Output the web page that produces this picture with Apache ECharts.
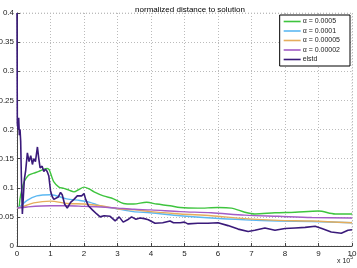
<!DOCTYPE html>
<html><head><meta charset="utf-8">
<script src="https://cdn.jsdelivr.net/npm/echarts@6/dist/echarts.min.js"></script>
<style>html,body{margin:0;padding:0;background:#fff}#c{width:357px;height:268px}</style>
</head><body><div id="c"></div>
<script>
var xTicks = [0,1,2,3,4,5,6,7,8,9,10];
var yTicks = [0,0.05,0.1,0.15,0.2,0.25,0.3,0.35,0.4];
var names = ['\u03b1 = 0.0005','\u03b1 = 0.0001','\u03b1 = 0.00005','\u03b1 = 0.00002','elstd'];

var g5X = [0,0.06,0.09,0.15,0.21,0.28,0.36,0.5,0.65,0.81,0.9,0.96,1.03,1.1,1.25,1.4,1.55,1.7,1.85,2.0,2.15,2.3,2.58,2.88,3.18,3.48,3.87,4.17,4.57,4.87,5.4,6.0,6.4,6.8,7.1,7.7,8.3,9.0,9.5,10];
var g5Y = [0.065,0.067,0.081,0.098,0.11,0.117,0.122,0.125,0.128,0.132,0.133,0.131,0.12,0.11,0.101,0.099,0.096,0.093,0.097,0.101,0.098,0.093,0.086,0.081,0.073,0.072,0.075,0.072,0.069,0.066,0.065,0.066,0.065,0.058,0.055,0.057,0.058,0.06,0.055,0.055];

var g1X = [0,0.1,0.29,0.59,1.0,1.48,1.88,2.18,2.48,2.97,3.47,3.97,4.87,5.8,6.8,7.8,8.8,10];
var g1Y = [0.065,0.068,0.078,0.086,0.088,0.081,0.078,0.075,0.069,0.064,0.059,0.057,0.052,0.048,0.045,0.043,0.042,0.040];

var g05X = [0,0.2,0.5,1.0,1.5,2.0,2.5,3.0,3.5,4.0,4.87,5.8,6.8,7.8,8.8,10];
var g05Y = [0.065,0.068,0.074,0.077,0.073,0.072,0.069,0.064,0.062,0.059,0.055,0.052,0.047,0.044,0.043,0.040];

var g02X = [0,0.3,1.0,1.5,2.0,2.5,3.0,3.5,4.0,4.87,5.8,6.8,7.8,8.8,10];
var g02Y = [0.065,0.067,0.069,0.069,0.068,0.067,0.065,0.063,0.062,0.059,0.057,0.053,0.051,0.049,0.048];

var elX = [0,0.01,0.03,0.05,0.07,0.09,0.11,0.13,0.16,0.19,0.22,0.26,0.31,0.36,0.41,0.46,0.5,0.55,0.61,0.65,0.69,0.75,0.8,0.85,0.9,0.95,1.0,1.05,1.1,1.15,1.23,1.3,1.35,1.42,1.5,1.6,1.7,1.8,1.93,2.0,2.05,2.13,2.25,2.38,2.48,2.6,2.78,2.93,3.05,3.17,3.3,3.42,3.55,3.67,3.8,3.92,4.12,4.35,4.57,4.67,4.87,5.0,5.1,5.4,5.7,6.0,6.3,6.6,6.9,7.1,7.4,7.7,8.0,8.3,8.6,8.9,9.1,9.38,9.68,9.88,10];
var elY = [0.4,0.21,0.2,0.22,0.19,0.2,0.18,0.12,0.055,0.085,0.115,0.13,0.16,0.145,0.155,0.14,0.15,0.145,0.17,0.15,0.134,0.137,0.128,0.132,0.128,0.12,0.095,0.085,0.08,0.079,0.084,0.092,0.088,0.072,0.065,0.075,0.08,0.086,0.086,0.09,0.08,0.069,0.062,0.055,0.05,0.052,0.051,0.043,0.05,0.041,0.045,0.05,0.046,0.048,0.047,0.045,0.039,0.04,0.043,0.04,0.04,0.041,0.038,0.039,0.039,0.04,0.035,0.029,0.025,0.027,0.031,0.027,0.03,0.031,0.032,0.034,0.03,0.024,0.022,0.027,0.028];

function pairs(xs, ys){ return xs.map(function(x,i){return [x, ys[i]];}); }
var colors = ['#3ec43e','#5cb8f2','#e5ad5c','#a35cc6','#3a1a7a'];
var seriesData = [pairs(g5X,g5Y), pairs(g1X,g1Y), pairs(g05X,g05Y), pairs(g02X,g02Y), pairs(elX,elY)];

var chart = echarts.init(document.getElementById('c'), null, {renderer:'canvas'});
var font = 'Liberation Sans, Arial, sans-serif';
chart.setOption({
  animation: false,
  backgroundColor: '#fff',
  title: { text: 'normalized distance to solution', left: 185, top: 1, textAlign: 'center',
    textStyle: { fontSize: 8, fontWeight: 'normal', color: '#000', fontFamily: font } },
  grid: { left: 17, right: 5, top: 13, bottom: 22, containLabel: false, outerBoundsMode: 'none', show: false },
  legend: {
    data: names, orient: 'vertical', right: 7, top: 15,
    backgroundColor: '#fff', borderColor: '#000', borderWidth: 1,
    padding: [3, 10, 3, 4], itemGap: 2.5, itemWidth: 17, itemHeight: 8,
    icon: 'path://M0,3.2L17,3.2L17,4.8L0,4.8Z',
    textStyle: { fontSize: 7, color: '#222', fontFamily: font, padding: [0,0,0,-3] }
  },
  xAxis: {
    type: 'value', min: 0, max: 10, interval: 1,
    axisLine: { show: true, onZero: false, lineStyle: { color: '#444', width: 1 } },
    axisTick: { show: true, inside: true, length: 3, lineStyle: { color: '#444' } },
    axisLabel: { fontSize: 8, color: '#222', margin: 4, fontFamily: font,
      formatter: function(v){ return xTicks.indexOf(v) >= 0 ? String(v) : ''; } },
    splitLine: { show: true, lineStyle: { type: [1,2], color: '#bbb', width: 1 } }
  },
  yAxis: {
    type: 'value', min: 0, max: 0.4, interval: 0.05,
    axisLine: { show: true, onZero: false, lineStyle: { color: '#444', width: 1 } },
    axisTick: { show: true, inside: true, length: 3, lineStyle: { color: '#444' } },
    axisLabel: { fontSize: 8, color: '#222', margin: 3, fontFamily: font,
      formatter: function(v){ var r = Math.round(v*100)/100; return yTicks.indexOf(r) >= 0 ? String(r) : ''; } },
    splitLine: { show: true, lineStyle: { type: [1,2], color: '#bbb', width: 1 } }
  },
  graphic: [{
    type: 'text', right: 4, top: 255,
    style: { text: '{a|x 10}{b|5}', rich: { a: { fontSize: 7, fill: '#222', fontFamily: font, verticalAlign: 'bottom' },
      b: { fontSize: 5, fill: '#222', fontFamily: font, verticalAlign: 'top', padding: [0,0,5,0] } } }
  }, {
    type: 'rect', shape: { x: 17, y: 13, width: 335, height: 233 }, style: { fill: 'none', stroke: '#ccc', lineDash: [1,2] }, silent: true
  }],
  series: names.map(function(n, i){
    return { name: n, type: 'line', data: seriesData[i], showSymbol: false, symbol: 'none',
      smooth: i < 4 ? 0.3 : false, color: colors[i],
      lineStyle: { width: i === 4 ? 1.6 : 1.4, color: colors[i] }, z: i === 4 ? 3 : 2 };
  })
});
</script></body></html>
